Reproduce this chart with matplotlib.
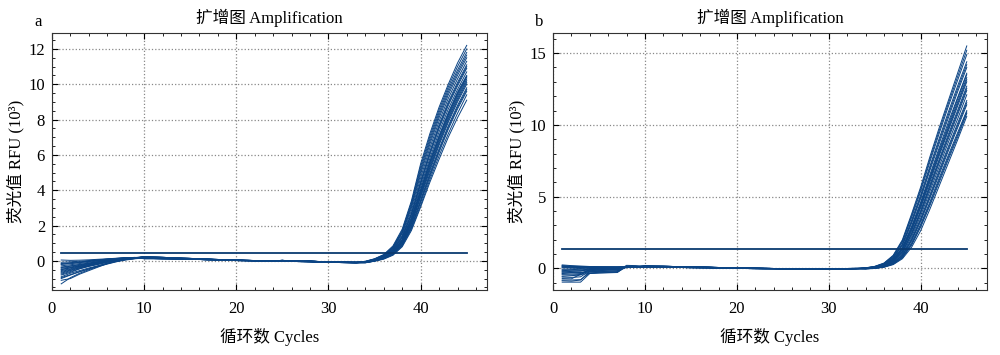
import numpy as np
import matplotlib
matplotlib.use('Agg')
from matplotlib import pyplot as plt
from matplotlib.ticker import MultipleLocator

plt.rcParams['font.family'] = ['Liberation Serif', 'Noto Sans CJK SC']
plt.rcParams['font.size'] = 11

cycles = list(range(1, 46))

# panel a, RFU (10^3), one list per well
curves_a = [
    [-1.30,-0.95,-0.70,-0.50,-0.32,-0.18,-0.05,0.05,0.12, 0.16,0.16,0.15,0.13,0.12,0.11,0.09,0.08,0.07,0.05,0.04,0.02,0.01,0.00,-0.01,0.02,-0.02,-0.03,-0.04,-0.06,-0.07,-0.08,-0.09,-0.10, -0.02,0.12,0.36,0.85,1.80,3.40,5.50,7.20,8.70,10.0,11.2,12.2],
    [-1.10,-1.00,-0.75,-0.55,-0.35,-0.15,0.00,0.08,0.14, 0.20,0.19,0.17,0.15,0.14,0.12,0.10,0.09,0.07,0.06,0.04,0.03,0.02,0.01,0.00,0.03,-0.01,-0.02,-0.03,-0.05,-0.06,-0.07,-0.08,-0.08, -0.04,0.10,0.32,0.78,1.65,3.20,5.20,6.90,8.40,9.70,10.8,11.8],
    [-0.90,-0.70,-0.55,-0.40,-0.28,-0.12,0.02,0.10,0.15, 0.13,0.13,0.12,0.11,0.10,0.09,0.08,0.06,0.05,0.04,0.02,0.01,0.00,-0.01,-0.02,0.00,-0.03,-0.04,-0.05,-0.07,-0.08,-0.09,-0.10,-0.11, -0.05,0.08,0.30,0.72,1.55,3.00,4.90,6.60,8.10,9.40,10.5,11.5],
    [-0.80,-0.65,-0.45,-0.30,-0.20,-0.08,0.05,0.12,0.16, 0.24,0.22,0.20,0.18,0.16,0.14,0.12,0.10,0.08,0.06,0.05,0.03,0.02,0.01,0.00,0.02,-0.01,-0.02,0.00,-0.04,-0.05,-0.06,-0.07,-0.08, -0.05,0.07,0.28,0.68,1.45,2.85,4.70,6.40,7.90,9.20,10.3,11.3],
    [-0.70,-0.55,-0.40,-0.28,-0.15,-0.05,0.06,0.12,0.17, 0.16,0.16,0.15,0.13,0.12,0.11,0.09,0.08,0.07,0.05,0.04,0.02,0.01,0.00,-0.01,0.02,-0.02,-0.03,-0.04,-0.06,-0.07,-0.08,-0.09,-0.10, -0.06,0.06,0.26,0.64,1.38,2.70,4.50,6.20,7.70,9.00,10.1,11.1],
    [-0.60,-0.48,-0.35,-0.25,-0.14,-0.02,0.08,0.14,0.18, 0.20,0.19,0.17,0.15,0.14,0.12,0.10,0.09,0.07,0.06,0.04,0.03,0.02,0.01,0.00,0.03,-0.01,-0.02,-0.03,-0.05,-0.06,-0.07,-0.08,-0.08, -0.06,0.05,0.24,0.60,1.30,2.60,4.35,6.00,7.50,8.80,9.90,10.9],
    [-0.50,-0.40,-0.30,-0.20,-0.10,0.00,0.10,0.15,0.18, 0.13,0.13,0.12,0.11,0.10,0.09,0.08,0.06,0.05,0.04,0.02,0.01,0.00,-0.01,-0.02,0.00,-0.03,-0.04,-0.05,-0.07,-0.08,-0.09,-0.10,-0.11, -0.07,0.04,0.22,0.56,1.22,2.48,4.20,5.80,7.30,8.60,9.70,10.7],
    [-0.42,-0.35,-0.25,-0.15,-0.06,0.03,0.10,0.15,0.17, 0.24,0.22,0.20,0.18,0.16,0.14,0.12,0.10,0.08,0.06,0.05,0.03,0.02,0.01,0.00,0.02,-0.01,-0.02,0.00,-0.04,-0.05,-0.06,-0.07,-0.08, -0.07,0.04,0.21,0.54,1.18,2.40,4.05,5.65,7.10,8.40,9.55,10.5],
    [-0.35,-0.28,-0.20,-0.12,-0.04,0.05,0.12,0.16,0.19, 0.16,0.16,0.15,0.13,0.12,0.11,0.09,0.08,0.07,0.05,0.04,0.02,0.01,0.00,-0.01,0.02,-0.02,-0.03,-0.04,-0.06,-0.07,-0.08,-0.09,-0.10, -0.08,0.03,0.20,0.51,1.12,2.30,3.90,5.50,6.95,8.25,9.40,10.4],
    [-0.28,-0.22,-0.15,-0.08,0.00,0.07,0.12,0.16,0.18, 0.20,0.19,0.17,0.15,0.14,0.12,0.10,0.09,0.07,0.06,0.04,0.03,0.02,0.01,0.00,0.03,-0.01,-0.02,-0.03,-0.05,-0.06,-0.07,-0.08,-0.08, -0.08,0.02,0.18,0.48,1.06,2.18,3.75,5.30,6.75,8.05,9.20,10.2],
    [-0.20,-0.16,-0.10,-0.04,0.03,0.08,0.13,0.17,0.20, 0.13,0.13,0.12,0.11,0.10,0.09,0.08,0.06,0.05,0.04,0.02,0.01,0.00,-0.01,-0.02,0.00,-0.03,-0.04,-0.05,-0.07,-0.08,-0.09,-0.10,-0.11, -0.09,0.01,0.16,0.45,1.00,2.08,3.60,5.10,6.55,7.85,9.00,10.0],
    [-0.15,-0.10,-0.06,-0.01,0.05,0.10,0.14,0.17,0.19, 0.24,0.22,0.20,0.18,0.16,0.14,0.12,0.10,0.08,0.06,0.05,0.03,0.02,0.01,0.00,0.02,-0.01,-0.02,0.00,-0.04,-0.05,-0.06,-0.07,-0.08, -0.09,0.00,0.15,0.42,0.95,1.98,3.45,4.95,6.35,7.65,8.80,9.80],
    [-0.08,-0.05,-0.02,0.02,0.06,0.10,0.14,0.17,0.19, 0.16,0.16,0.15,0.13,0.12,0.11,0.09,0.08,0.07,0.05,0.04,0.02,0.01,0.00,-0.01,0.02,-0.02,-0.03,-0.04,-0.06,-0.07,-0.08,-0.09,-0.10, -0.10,0.00,0.13,0.38,0.90,1.88,3.30,4.75,6.15,7.45,8.60,9.60],
    [0.05,0.03,0.04,0.06,0.09,0.12,0.15,0.17,0.18, 0.20,0.19,0.17,0.15,0.14,0.12,0.10,0.09,0.07,0.06,0.04,0.03,0.02,0.01,0.00,0.03,-0.01,-0.02,-0.03,-0.05,-0.06,-0.07,-0.08,-0.08, -0.10,-0.01,0.12,0.35,0.85,1.80,3.15,4.60,5.95,7.20,8.35,9.40],
    [-0.55,-0.45,-0.32,-0.22,-0.12,-0.01,0.07,0.13,0.16, 0.13,0.13,0.12,0.11,0.10,0.09,0.08,0.06,0.05,0.04,0.02,0.01,0.00,-0.01,-0.02,0.00,-0.03,-0.04,-0.05,-0.07,-0.08,-0.09,-0.10,-0.11, -0.11,-0.02,0.10,0.32,0.80,1.72,3.05,4.45,5.75,7.00,8.10,9.10],
    [-1.00,-0.80,-0.62,-0.46,-0.30,-0.16,-0.03,0.07,0.13, 0.24,0.22,0.20,0.18,0.16,0.14,0.12,0.10,0.08,0.06,0.05,0.03,0.02,0.01,0.00,0.02,-0.01,-0.02,0.00,-0.04,-0.05,-0.06,-0.07,-0.08, -0.03,0.11,0.34,0.80,1.72,3.30,5.35,7.05,8.55,9.85,11.0,12.0],
    [-0.75,-0.60,-0.44,-0.31,-0.19,-0.07,0.04,0.11,0.15, 0.13,0.13,0.12,0.11,0.10,0.09,0.08,0.06,0.05,0.04,0.02,0.01,0.00,-0.01,-0.02,0.00,-0.03,-0.04,-0.05,-0.07,-0.08,-0.09,-0.10,-0.11, -0.06,0.06,0.25,0.62,1.34,2.65,4.42,6.10,7.60,8.90,10.0,11.0],
    [-0.38,-0.30,-0.22,-0.14,-0.05,0.04,0.11,0.15,0.18, 0.16,0.16,0.15,0.13,0.12,0.11,0.09,0.08,0.07,0.05,0.04,0.02,0.01,0.00,-0.01,0.02,-0.02,-0.03,-0.04,-0.06,-0.07,-0.08,-0.09,-0.10, -0.07,0.03,0.20,0.52,1.15,2.35,3.98,5.58,7.02,8.32,9.48,10.45],
    [-0.18,-0.13,-0.08,-0.02,0.04,0.09,0.13,0.17,0.19, 0.20,0.19,0.17,0.15,0.14,0.12,0.10,0.09,0.07,0.06,0.04,0.03,0.02,0.01,0.00,0.03,-0.01,-0.02,-0.03,-0.05,-0.06,-0.07,-0.08,-0.08, -0.09,0.01,0.17,0.46,1.03,2.12,3.68,5.20,6.65,7.95,9.10,10.1],
    [-0.95,-0.78,-0.60,-0.44,-0.28,-0.14,-0.02,0.08,0.14, 0.24,0.22,0.20,0.18,0.16,0.14,0.12,0.10,0.08,0.06,0.05,0.03,0.02,0.01,0.00,0.02,-0.01,-0.02,0.00,-0.04,-0.05,-0.06,-0.07,-0.08, -0.04,0.09,0.31,0.75,1.60,3.10,5.05,6.75,8.25,9.55,10.65,11.65],
    [-0.48,-0.38,-0.28,-0.18,-0.08,0.02,0.10,0.15,0.18, 0.13,0.13,0.12,0.11,0.10,0.09,0.08,0.06,0.05,0.04,0.02,0.01,0.00,-0.01,-0.02,0.00,-0.03,-0.04,-0.05,-0.07,-0.08,-0.09,-0.10,-0.11, -0.10,-0.01,0.14,0.40,0.92,1.93,3.38,4.85,6.25,7.55,8.70,9.70],
    [-0.65,-0.52,-0.38,-0.26,-0.15,-0.03,0.07,0.13,0.17, 0.20,0.19,0.17,0.15,0.14,0.12,0.10,0.09,0.07,0.06,0.04,0.03,0.02,0.01,0.00,0.03,-0.01,-0.02,-0.03,-0.05,-0.06,-0.07,-0.08,-0.08, -0.08,0.02,0.19,0.50,1.09,2.24,3.82,5.40,6.85,8.15,9.30,10.3],
]

# panel b
curves_b = [
    [-0.95,-0.95,-0.95,-0.35,-0.30,-0.28,-0.25,0.12,0.12, 0.12,0.12,0.11,0.11,0.10,0.09,0.08,0.07,0.05,0.04,0.03,0.02,0.01,0.00,-0.01,-0.02,-0.02,-0.03,-0.03,-0.03,-0.03,-0.02,-0.02,-0.01, 0.05,0.15,0.38,0.92,2.00,3.80,5.70,7.80,9.80,11.7,13.6,15.5],
    [-0.85,-0.88,-0.80,-0.20,-0.15,-0.12,-0.10,0.10,0.11, 0.15,0.14,0.13,0.12,0.11,0.10,0.09,0.08,0.06,0.05,0.04,0.03,0.02,0.01,0.00,-0.01,-0.01,-0.02,-0.02,-0.02,-0.02,-0.01,-0.01,0.00, 0.04,0.13,0.34,0.84,1.85,3.55,5.40,7.45,9.40,11.3,13.1,14.9],
    [-0.70,-0.72,-0.40,-0.35,-0.32,-0.30,-0.28,0.18,0.17, 0.09,0.09,0.08,0.08,0.07,0.06,0.05,0.04,0.03,0.02,0.01,0.00,-0.01,-0.02,-0.02,-0.03,-0.03,-0.04,-0.04,-0.04,-0.04,-0.03,-0.03,-0.02, 0.03,0.12,0.31,0.78,1.72,3.35,5.15,7.15,9.05,10.9,12.7,14.4],
    [-0.55,-0.50,-0.45,-0.10,-0.08,-0.06,-0.05,0.08,0.10, 0.18,0.17,0.16,0.14,0.13,0.11,0.10,0.09,0.07,0.06,0.05,0.03,0.02,0.01,0.00,0.00,-0.01,-0.01,-0.02,-0.02,-0.01,-0.01,0.00,0.01, 0.03,0.11,0.29,0.72,1.60,3.15,4.90,6.85,8.70,10.5,12.3,14.0],
    [-0.45,-0.45,-0.42,-0.05,-0.03,-0.02,0.00,0.06,0.08, 0.12,0.12,0.11,0.11,0.10,0.09,0.08,0.07,0.05,0.04,0.03,0.02,0.01,0.00,-0.01,-0.02,-0.02,-0.03,-0.03,-0.03,-0.03,-0.02,-0.02,-0.01, 0.02,0.10,0.27,0.66,1.48,2.95,4.65,6.55,8.40,10.2,11.9,13.6],
    [-0.35,-0.30,-0.28,-0.25,-0.22,-0.20,-0.18,0.22,0.20, 0.15,0.14,0.13,0.12,0.11,0.10,0.09,0.08,0.06,0.05,0.04,0.03,0.02,0.01,0.00,-0.01,-0.01,-0.02,-0.02,-0.02,-0.02,-0.01,-0.01,0.00, 0.02,0.09,0.25,0.61,1.38,2.78,4.45,6.30,8.10,9.85,11.6,13.3],
    [-0.25,-0.20,-0.18,0.00,0.02,0.03,0.04,0.10,0.10, 0.09,0.09,0.08,0.08,0.07,0.06,0.05,0.04,0.03,0.02,0.01,0.00,-0.01,-0.02,-0.02,-0.03,-0.03,-0.04,-0.04,-0.04,-0.04,-0.03,-0.03,-0.02, 0.01,0.08,0.23,0.57,1.28,2.62,4.25,6.05,7.85,9.60,11.3,13.0],
    [-0.15,-0.12,-0.10,-0.05,0.00,0.03,0.05,0.08,0.09, 0.18,0.17,0.16,0.14,0.13,0.11,0.10,0.09,0.07,0.06,0.05,0.03,0.02,0.01,0.00,0.00,-0.01,-0.01,-0.02,-0.02,-0.01,-0.01,0.00,0.01, 0.01,0.07,0.21,0.53,1.20,2.48,4.05,5.85,7.60,9.35,11.0,12.7],
    [-0.05,-0.02,0.00,0.02,0.04,0.05,0.06,0.08,0.09, 0.12,0.12,0.11,0.11,0.10,0.09,0.08,0.07,0.05,0.04,0.03,0.02,0.01,0.00,-0.01,-0.02,-0.02,-0.03,-0.03,-0.03,-0.03,-0.02,-0.02,-0.01, 0.00,0.06,0.19,0.49,1.12,2.34,3.88,5.60,7.35,9.05,10.7,12.4],
    [0.05,0.06,0.06,0.07,0.07,0.08,0.08,0.10,0.10, 0.15,0.14,0.13,0.12,0.11,0.10,0.09,0.08,0.06,0.05,0.04,0.03,0.02,0.01,0.00,-0.01,-0.01,-0.02,-0.02,-0.02,-0.02,-0.01,-0.01,0.00, 0.00,0.05,0.17,0.45,1.04,2.20,3.70,5.40,7.10,8.80,10.4,12.1],
    [0.12,0.10,0.10,0.09,0.09,0.09,0.09,0.10,0.11, 0.09,0.09,0.08,0.08,0.07,0.06,0.05,0.04,0.03,0.02,0.01,0.00,-0.01,-0.02,-0.02,-0.03,-0.03,-0.04,-0.04,-0.04,-0.04,-0.03,-0.03,-0.02, -0.01,0.04,0.15,0.41,0.96,2.06,3.50,5.15,6.85,8.50,10.1,11.7],
    [0.20,0.16,0.14,0.12,0.11,0.10,0.10,0.12,0.12, 0.18,0.17,0.16,0.14,0.13,0.11,0.10,0.09,0.07,0.06,0.05,0.03,0.02,0.01,0.00,0.00,-0.01,-0.01,-0.02,-0.02,-0.01,-0.01,0.00,0.01, -0.01,0.03,0.13,0.37,0.88,1.92,3.30,4.90,6.55,8.20,9.80,11.4],
    [0.25,0.20,0.17,0.14,0.12,0.11,0.10,0.11,0.12, 0.12,0.12,0.11,0.11,0.10,0.09,0.08,0.07,0.05,0.04,0.03,0.02,0.01,0.00,-0.01,-0.02,-0.02,-0.03,-0.03,-0.03,-0.03,-0.02,-0.02,-0.01, -0.02,0.02,0.12,0.34,0.81,1.78,3.10,4.65,6.30,7.90,9.45,11.0],
    [-0.60,-0.62,-0.58,-0.15,-0.12,-0.10,-0.08,0.09,0.10, 0.15,0.14,0.13,0.12,0.11,0.10,0.09,0.08,0.06,0.05,0.04,0.03,0.02,0.01,0.00,-0.01,-0.01,-0.02,-0.02,-0.02,-0.02,-0.01,-0.01,0.00, -0.02,0.01,0.10,0.30,0.74,1.62,2.90,4.40,6.00,7.60,9.15,10.8],
    [0.15,0.13,0.12,0.11,0.10,0.10,0.10,0.11,0.11, 0.09,0.09,0.08,0.08,0.07,0.06,0.05,0.04,0.03,0.02,0.01,0.00,-0.01,-0.02,-0.02,-0.03,-0.03,-0.04,-0.04,-0.04,-0.04,-0.03,-0.03,-0.02, -0.03,0.00,0.09,0.27,0.68,1.48,2.65,4.15,5.75,7.35,8.95,10.6],
    [-0.30,-0.28,-0.25,-0.22,-0.20,-0.18,-0.15,0.15,0.14, 0.18,0.17,0.16,0.14,0.13,0.11,0.10,0.09,0.07,0.06,0.05,0.03,0.02,0.01,0.00,0.00,-0.01,-0.01,-0.02,-0.02,-0.01,-0.01,0.00,0.01, 0.02,0.09,0.26,0.63,1.42,2.85,4.55,6.40,8.25,10.0,11.8,13.5],
    [-0.80,-0.80,-0.78,-0.30,-0.27,-0.25,-0.22,0.14,0.13, 0.09,0.09,0.08,0.08,0.07,0.06,0.05,0.04,0.03,0.02,0.01,0.00,-0.01,-0.02,-0.02,-0.03,-0.03,-0.04,-0.04,-0.04,-0.04,-0.03,-0.03,-0.02, 0.03,0.11,0.30,0.75,1.66,3.25,5.02,7.00,8.88,10.7,12.5,14.2],
    [-0.40,-0.38,-0.35,-0.08,-0.05,-0.03,-0.01,0.07,0.09, 0.12,0.12,0.11,0.11,0.10,0.09,0.08,0.07,0.05,0.04,0.03,0.02,0.01,0.00,-0.01,-0.02,-0.02,-0.03,-0.03,-0.03,-0.03,-0.02,-0.02,-0.01, 0.02,0.09,0.24,0.59,1.33,2.70,4.35,6.18,7.98,9.72,11.45,13.15],
    [0.08,0.08,0.08,0.08,0.08,0.09,0.09,0.10,0.11, 0.18,0.17,0.16,0.14,0.13,0.11,0.10,0.09,0.07,0.06,0.05,0.03,0.02,0.01,0.00,0.00,-0.01,-0.01,-0.02,-0.02,-0.01,-0.01,0.00,0.01, 0.01,0.07,0.20,0.51,1.16,2.41,3.96,5.72,7.48,9.20,10.85,12.55],
    [-0.20,-0.18,-0.15,-0.12,-0.10,-0.08,-0.05,0.12,0.12, 0.15,0.14,0.13,0.12,0.11,0.10,0.09,0.08,0.06,0.05,0.04,0.03,0.02,0.01,0.00,-0.01,-0.01,-0.02,-0.02,-0.02,-0.02,-0.01,-0.01,0.00, -0.01,0.04,0.14,0.39,0.92,1.99,3.40,5.02,6.70,8.35,9.95,11.55],
    [0.18,0.15,0.13,0.12,0.11,0.10,0.10,0.11,0.11, 0.09,0.09,0.08,0.08,0.07,0.06,0.05,0.04,0.03,0.02,0.01,0.00,-0.01,-0.02,-0.02,-0.03,-0.03,-0.04,-0.04,-0.04,-0.04,-0.03,-0.03,-0.02, -0.02,0.02,0.11,0.32,0.78,1.70,3.00,4.52,6.15,7.75,9.30,10.9],
    [-0.10,-0.08,-0.05,-0.02,0.02,0.04,0.06,0.09,0.10, 0.12,0.12,0.11,0.11,0.10,0.09,0.08,0.07,0.05,0.04,0.03,0.02,0.01,0.00,-0.01,-0.02,-0.02,-0.03,-0.03,-0.03,-0.03,-0.02,-0.02,-0.01, 0.04,0.14,0.36,0.88,1.92,3.68,5.55,7.62,9.60,11.5,13.35,15.2],
]

threshold_a = 0.43
threshold_b = 1.35

line_color = '#0b4484'

fig = plt.figure(figsize=(10, 3.55), dpi=100)
ax_a = fig.add_axes([0.052, 0.183, 0.435, 0.724])
ax_b = fig.add_axes([0.553, 0.183, 0.434, 0.724])

panels = [
    (ax_a, curves_a, threshold_a, 'a', (-1.65, 12.9), 2, 0.5),
    (ax_b, curves_b, threshold_b, 'b', (-1.5, 16.4), 5, 1),
]

for ax, curves, thr, lab, ylim, major, minor in panels:
    for c in curves:
        ax.plot(cycles, c, color=line_color, lw=0.7)
    ax.plot([cycles[0], cycles[-1]], [thr, thr], color='#0a3a70', lw=1.3)
    ax.set_xlim(0, 47.2)
    ax.set_ylim(*ylim)
    ax.xaxis.set_major_locator(MultipleLocator(10))
    ax.xaxis.set_minor_locator(MultipleLocator(2))
    ax.yaxis.set_major_locator(MultipleLocator(major))
    ax.yaxis.set_minor_locator(MultipleLocator(minor))
    ax.tick_params(which='both', direction='in', top=True, right=True, labelsize=12)
    ax.tick_params(which='major', length=4)
    ax.tick_params(which='minor', length=2.5)
    ax.tick_params(axis='x', which='major', pad=8)
    ax.tick_params(axis='y', which='major', pad=5)
    ax.grid(True, which='major', linestyle=':', color='#888888', lw=0.9)
    for s in ax.spines.values():
        s.set_color('#333333')
    ax.set_title('扩增图 Amplification', fontsize=12, pad=7)
    ax.set_xlabel('循环数 Cycles', fontsize=12, labelpad=8)
    ax.set_ylabel('荧光值 RFU (10³)', fontsize=12, labelpad=3)
    ax.text(-0.032, 1.043, lab, transform=ax.transAxes, fontsize=12,
            ha='center', va='center')

fig.savefig('out.png', dpi=100)
